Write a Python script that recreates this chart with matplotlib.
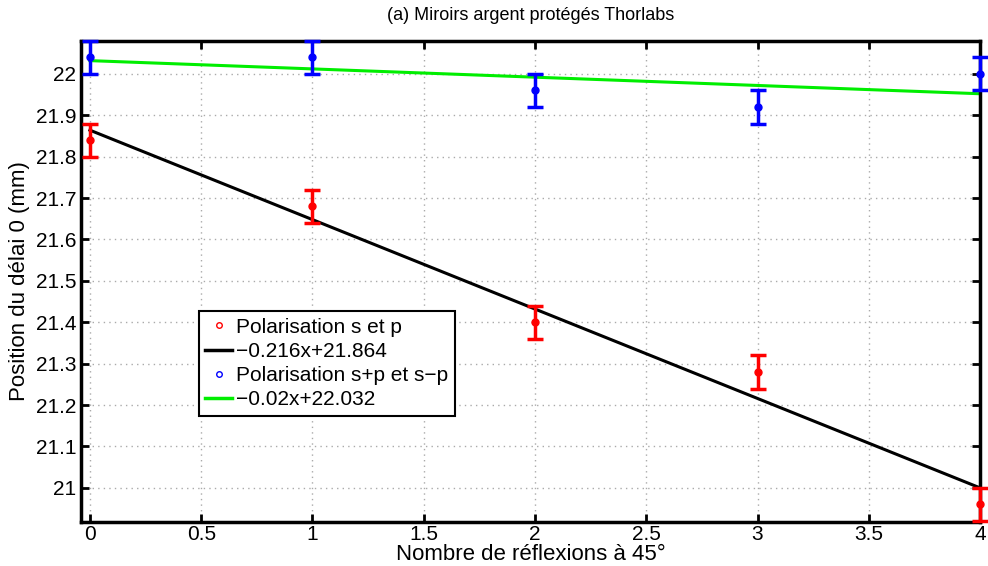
import numpy as np
import matplotlib.pyplot as plt
from matplotlib.lines import Line2D

plt.rcParams['font.family'] = ['Liberation Sans', 'DejaVu Sans']

# ----------------- DATA -----------------
n_reflexions = [0, 1, 2, 3, 4]
pos_sp = [21.84, 21.68, 21.40, 21.28, 20.96]       # polarisation s et p
pos_spsm = [22.04, 22.04, 21.96, 21.92, 22.00]     # polarisation s+p et s-p
err = [0.04, 0.04, 0.04, 0.04, 0.04]

fit_sp = (-0.216, 21.864)
fit_spsm = (-0.02, 22.032)
# ----------------------------------------

fig = plt.figure(figsize=(9.88, 5.66), dpi=100)
ax = fig.add_axes([0.082, 0.078, 0.910, 0.850])

x = np.array(n_reflexions, dtype=float)
xf = np.array([0.0, 4.0])

for y, col in [(pos_sp, 'red'), (pos_spsm, 'blue')]:
    eb = ax.errorbar(x, y, yerr=err, fmt='o', color=col, ms=5,
                     elinewidth=2.5, capsize=6, capthick=2.5, zorder=3)
    for art in eb.lines[1] + eb.lines[2] + (eb.lines[0],):
        art.set_clip_on(False)
ax.plot(xf, fit_sp[0] * xf + fit_sp[1], color='black', lw=2.2, zorder=2)
ax.plot(xf, fit_spsm[0] * xf + fit_spsm[1], color='#00ee00', lw=2.2, zorder=2)

ax.set_xlim(-0.04, 4.0)
ax.set_ylim(20.918, 22.08)
ax.set_xticks(np.arange(0, 4.01, 0.5))
ax.set_xticklabels(['0', '0.5', '1', '1.5', '2', '2.5', '3', '3.5', '4'])
ax.set_yticks(np.arange(21.0, 22.01, 0.1))
ax.set_yticklabels(['21', '21.1', '21.2', '21.3', '21.4', '21.5', '21.6',
                    '21.7', '21.8', '21.9', '22'])
ax.grid(True, linestyle=(0, (1, 3)), color='#aaaaaa', lw=1)
ax.tick_params(direction='in', length=6, width=2, labelsize=15,
               top=True, right=True)
ax.tick_params(axis='x', pad=2)
for sp in ax.spines.values():
    sp.set_linewidth(2.5)

ax.set_xlabel('Nombre de réflexions à 45°', fontsize=16, labelpad=0)
ax.set_ylabel('Position du délai 0 (mm)', fontsize=16, labelpad=4)
ax.set_title('(a) Miroirs argent protégés Thorlabs', fontsize=13, pad=15)

handles = [
    Line2D([], [], marker='o', ls='none', mfc='none', mec='red', ms=4),
    Line2D([], [], color='black', lw=2.5),
    Line2D([], [], marker='o', ls='none', mfc='none', mec='blue', ms=4),
    Line2D([], [], color='#00ee00', lw=2.5),
]
labels = ['Polarisation s et p', '\u22120.216x+21.864',
          'Polarisation s+p et s\u2212p', '\u22120.02x+22.032']
leg = ax.legend(handles, labels, loc='lower left', bbox_to_anchor=(0.131, 0.221),
                fontsize=15, frameon=True, fancybox=False, edgecolor='black',
                framealpha=1, handlelength=1.3, handletextpad=0.2,
                borderpad=0.3, labelspacing=0.25, borderaxespad=0)
leg.get_frame().set_linewidth(1.5)

fig.savefig('out.png', dpi=100)
